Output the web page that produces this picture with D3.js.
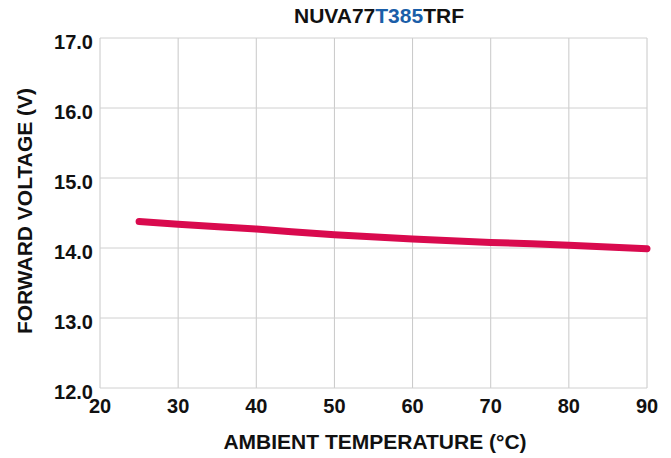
<!DOCTYPE html>
<html><head><meta charset="utf-8">
<script src="https://cdn.jsdelivr.net/npm/d3@7"></script>
<style>
html,body{margin:0;padding:0;background:#fff;}
svg{display:block;font-family:"Liberation Sans",Arial,sans-serif;font-weight:bold;}
</style></head>
<body><svg id="c" width="671" height="458"></svg>
<script>
const temps = [25, 30, 40, 50, 60, 70, 80, 90];
const voltage = [14.38, 14.34, 14.27, 14.19, 14.13, 14.08, 14.04, 13.99];
const xTicks = [20, 30, 40, 50, 60, 70, 80, 90];
const yTicks = [12, 13, 14, 15, 16, 17];
const titleParts = [{t:"NUVA77", c:"#111"}, {t:"T385", c:"#1a5ea8"}, {t:"TRF", c:"#111"}];

const svg = d3.select("#c");
const m = {l:100, r:24, t:38, b:70};
const W = 671, H = 458;
const x = d3.scaleLinear().domain([20, 90]).range([m.l, W - m.r]);
const y = d3.scaleLinear().domain([12, 17]).range([H - m.b, m.t]);

// grid
svg.append("g").selectAll("line").data(xTicks).join("line")
  .attr("x1", d => x(d)).attr("x2", d => x(d))
  .attr("y1", y(17)).attr("y2", y(12))
  .attr("stroke", "#c8c8c8").attr("stroke-width", 1);
svg.append("g").selectAll("line").data(yTicks).join("line")
  .attr("x1", x(20)).attr("x2", x(90))
  .attr("y1", d => y(d)).attr("y2", d => y(d))
  .attr("stroke", "#d0d0d0").attr("stroke-width", 1);

// y tick labels
svg.append("g").selectAll("text").data(yTicks).join("text")
  .attr("x", x(20) - 7).attr("y", d => y(d) + 4).attr("dy", "0.36em")
  .attr("text-anchor", "end").attr("font-size", 20).attr("fill", "#111")
  .text(d => d.toFixed(1));

// x tick labels
svg.append("g").selectAll("text").data(xTicks).join("text")
  .attr("x", d => x(d)).attr("y", y(12) + 18).attr("dy", "0.36em")
  .attr("text-anchor", "middle").attr("font-size", 20).attr("fill", "#111")
  .text(d => d);

// line
const pts = temps.map((t, i) => [t, voltage[i]]);
svg.append("path").datum(pts)
  .attr("d", d3.line().x(d => x(d[0])).y(d => y(d[1])).curve(d3.curveMonotoneX))
  .attr("fill", "none").attr("stroke", "#d90a4e").attr("stroke-width", 7)
  .attr("stroke-linecap", "round");

// title
const title = svg.append("text").attr("x", 379).attr("y", 23)
  .attr("text-anchor", "middle").attr("font-size", 21);
title.selectAll("tspan").data(titleParts).join("tspan")
  .attr("fill", d => d.c).text(d => d.t);

// axis titles
svg.append("text").attr("x", 375).attr("y", 449)
  .attr("text-anchor", "middle").attr("font-size", 21).attr("fill", "#111")
  .text("AMBIENT TEMPERATURE (°C)");
svg.append("text").attr("transform", "translate(32,211) rotate(-90)")
  .attr("text-anchor", "middle").attr("font-size", 21).attr("fill", "#111")
  .text("FORWARD VOLTAGE (V)");
</script></body></html>
